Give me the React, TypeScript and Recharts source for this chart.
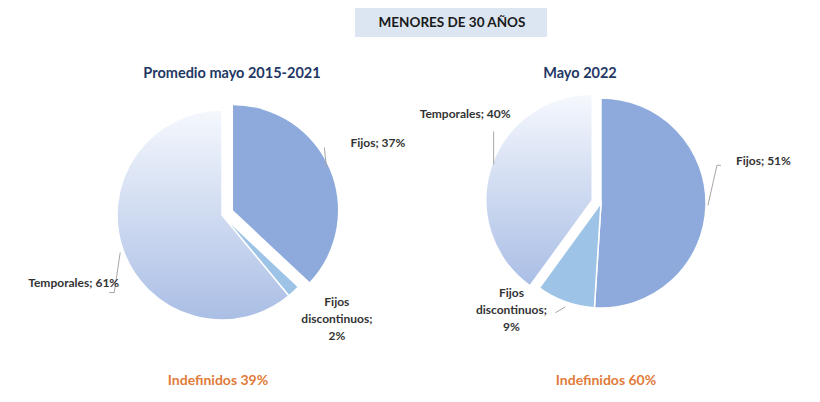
import { PieChart, Pie, Cell } from 'recharts';

const categories = ['Fijos', 'Fijos discontinuos', 'Temporales'];
const promedio20152021 = [37, 2, 61];
const mayo2022 = [51, 9, 40];
const pieTitles = ['Promedio mayo 2015-2021', 'Mayo 2022'];
const indefinidos = [39, 60];
const explodedIndex = [0, 2];

const FONT = 'Lato, "Open Sans", sans-serif';
const RADIUS = 105;
const EXPLODE = [12, 10];

type LabelLayout = { line: number[][]; text: number[]; anchor: 'start' | 'middle' | 'end' };

// label placement relative to the slice's outer edge point
const leftLayout: LabelLayout[] = [
  { line: [[-3, -1], [-5, -21]], text: [21, -22], anchor: 'start' },
  { line: [], text: [43, 14], anchor: 'middle' },
  { line: [[-3, 2], [-9, 42], [-14, 42]], text: [-4, 36], anchor: 'end' },
];
const rightLayout: LabelLayout[] = [
  { line: [[2, -1], [11, -41], [15, -41]], text: [30, -41], anchor: 'start' },
  { line: [[0, 5], [-10, 11]], text: [-54, -5], anchor: 'middle' },
  { line: [[2, -3], [2, -36]], text: [19, -49], anchor: 'end' },
];

const fills = ['#8eaadc', '#9dc3e6', 'url(#tempGrad)'];

function toData(values: number[]) {
  return categories.map((name, i) => ({ name, value: values[i] }));
}

function midAngleOf(values: number[], idx: number) {
  const total = values.reduce((a, b) => a + b, 0);
  const before = values.slice(0, idx).reduce((a, b) => a + b, 0);
  return 90 - ((before + values[idx] / 2) / total) * 360;
}

function makeLabel(layout: LabelLayout[], onlyIndex: number | null, skipIndex: number | null) {
  return (props: any) => {
    const { cx, cy, midAngle, outerRadius, index, name, value } = props;
    if (onlyIndex !== null && index !== onlyIndex) return null;
    if (skipIndex !== null && index === skipIndex) return null;
    const rad = (-midAngle * Math.PI) / 180;
    const ex = cx + outerRadius * Math.cos(rad);
    const ey = cy + outerRadius * Math.sin(rad);
    const l = layout[index];
    const lines = name === 'Fijos discontinuos' ? ['Fijos', 'discontinuos;', `${value}%`] : [`${name}; ${value}%`];
    const pts = l.line.map(([dx, dy]) => `${ex + dx},${ey + dy}`).join(' ');
    return (
      <g key={`lbl-${index}`}>
        {l.line.length > 0 && <polyline points={pts} fill="none" stroke="#a6a6a6" strokeWidth={1} />}
        <text x={ex + l.text[0]} y={ey + l.text[1]} textAnchor={l.anchor} fill="#333333" fontSize={12} fontWeight={700} fontFamily={FONT}>
          {lines.map((t, i) => (
            <tspan key={i} x={ex + l.text[0]} dy={i === 0 ? 0 : 17}>{t}</tspan>
          ))}
        </text>
      </g>
    );
  };
}

function PieGroup({ values, cx, cy, layout, exploded, explode }: { values: number[]; cx: number; cy: number; layout: LabelLayout[]; exploded: number; explode: number }) {
  const data = toData(values);
  const mid = (midAngleOf(values, exploded) * Math.PI) / 180;
  const ox = explode * Math.cos(-mid);
  const oy = explode * Math.sin(-mid);
  return [
    <Pie
      key="base"
      data={data}
      dataKey="value"
      cx={cx}
      cy={cy}
      outerRadius={RADIUS}
      startAngle={90}
      endAngle={-270}
      stroke="#ffffff"
      strokeWidth={1.5}
      isAnimationActive={false}
      labelLine={false}
      label={makeLabel(layout, null, exploded)}
    >
      {data.map((d, i) => (
        <Cell key={d.name} fill={i === exploded ? 'none' : fills[i]} stroke={i === exploded ? 'none' : '#ffffff'} />
      ))}
    </Pie>,
    <Pie
      key="exploded"
      data={data}
      dataKey="value"
      cx={cx + ox}
      cy={cy + oy}
      outerRadius={RADIUS}
      startAngle={90}
      endAngle={-270}
      stroke="none"
      isAnimationActive={false}
      labelLine={false}
      label={makeLabel(layout, exploded, null)}
    >
      {data.map((d, i) => (
        <Cell key={d.name} fill={i === exploded ? fills[i] : 'none'} stroke="none" />
      ))}
    </Pie>,
  ];
}

const textStyle = { position: 'absolute' as const, fontFamily: FONT, fontWeight: 700, whiteSpace: 'nowrap' as const, transform: 'translate(-50%, -50%)' };

export default function App() {
  return (
    <div style={{ position: 'absolute', left: 0, top: 0, width: 820, height: 402, background: '#fff' }}>
      <div style={{ position: 'absolute', left: 355, top: 8, width: 192, height: 29, background: '#dce6f2' }} />
      <div style={{ ...textStyle, left: 452, top: 22, fontSize: 13.5, color: '#1a1a1a' }}>MENORES DE 30 AÑOS</div>
      <div style={{ ...textStyle, left: 232, top: 72, fontSize: 14.5, color: '#1f3864' }}>{pieTitles[0]}</div>
      <div style={{ ...textStyle, left: 580, top: 72, fontSize: 14.5, color: '#1f3864' }}>{pieTitles[1]}</div>
      <div style={{ ...textStyle, left: 218, top: 379, fontSize: 14, color: '#e07b39' }}>{`Indefinidos ${indefinidos[0]}%`}</div>
      <div style={{ ...textStyle, left: 606, top: 379, fontSize: 14, color: '#e07b39' }}>{`Indefinidos ${indefinidos[1]}%`}</div>
      <div style={{ position: 'absolute', left: 0, top: 0 }}>
        <PieChart width={820} height={402} margin={{ top: 0, right: 0, bottom: 0, left: 0 }}>
          <defs>
            <linearGradient id="tempGrad" x1="0" y1="0" x2="0" y2="1">
              <stop offset="0%" stopColor="#f5f8fd" />
              <stop offset="100%" stopColor="#aabee5" />
            </linearGradient>
          </defs>
          {PieGroup({ values: promedio20152021, cx: 222, cy: 215, layout: leftLayout, exploded: explodedIndex[0], explode: EXPLODE[0] })}
          {PieGroup({ values: mayo2022, cx: 601, cy: 203, layout: rightLayout, exploded: explodedIndex[1], explode: EXPLODE[1] })}
        </PieChart>
      </div>
    </div>
  );
}
